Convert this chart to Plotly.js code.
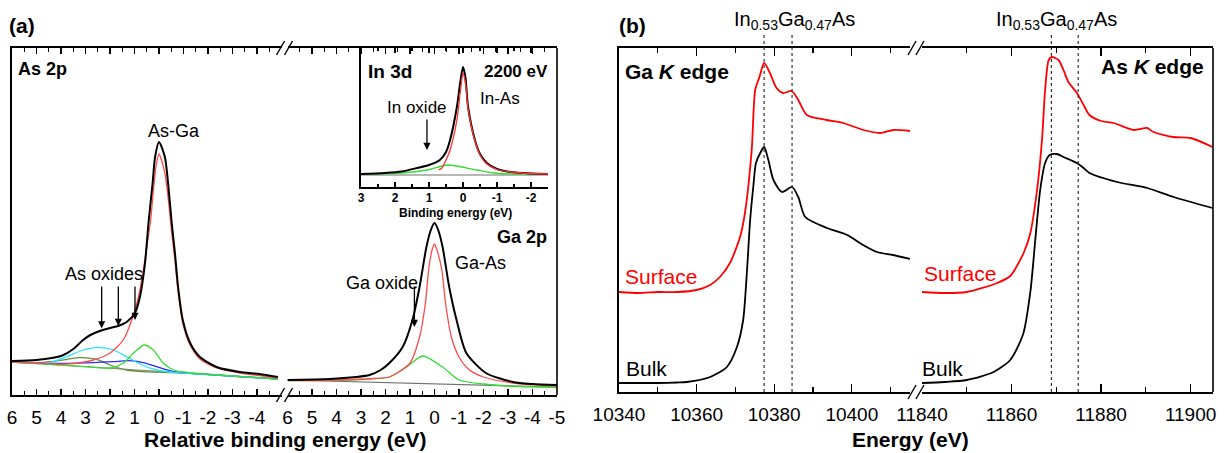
<!DOCTYPE html>
<html><head><meta charset="utf-8">
<script src="https://cdn.plot.ly/plotly-3.0.1.min.js"></script>
<style>html,body{margin:0;padding:0;background:#fff;}#chart{width:1225px;height:453px;}</style>
</head><body><div id="chart"></div>
<script>
// ---------- DATA ----------
// Panel (a) As 2p (relative binding energy, eV ; intensity a.u.)
const as2pE_total = [6, 5, 4, 3.5, 3.1, 2.8, 2.42, 2.0, 1.67, 1.32, 0.98, 0.78, 0.57, 0.43, 0.26, 0.16, 0, -0.24, -0.37, -0.52, -0.65, -0.78, -0.97, -1.27, -1.67, -2.35, -3.3, -4.1, -4.85];
const as2pI_total = [34, 35, 39, 46, 55, 60, 64, 67, 69, 73, 82, 98, 132, 172, 212, 238, 253, 238, 212, 172, 142, 108, 75, 52, 38, 28, 23, 21, 18];
const as2pE_AsGa = [6, 5, 3.77, 2.68, 2.0, 1.46, 1.11, 0.84, 0.64, 0.44, 0.34, 0.2, 0.1, 0, -0.1, -0.24, -0.37, -0.52, -0.65, -0.78, -0.97, -1.27, -1.67, -2.35, -3.3, -4.1, -4.85];
const as2pI_AsGa = [33, 32, 31, 35, 42, 55, 75, 98, 125, 158, 175, 212, 232, 241, 235, 222, 198, 162, 135, 103, 72, 50, 36, 27, 22, 19.5, 17];
const as2pE_cyan = [6, 5, 4.45, 3.77, 3.09, 2.48, 1.86, 1.32, 0.78, 0.1, -0.72, -2, -4.85];
const as2pI_cyan = [33, 31.6, 32.3, 38.3, 45, 47.7, 45, 38.3, 31, 25, 22.3, 20.5, 16];
const as2pE_green = [6, 4, 3, 2.0, 1.46, 1.05, 0.61, 0.23, -0.18, -0.6, -1.27, -2.5, -4.85];
const as2pI_green = [33, 30, 28.3, 27, 31.7, 41.7, 50, 45, 31.7, 25, 22.3, 19.7, 16];
const as2pE_blue = [6, 5, 3.77, 2.68, 1.86, 1.25, 0.64, 0.1, -0.6, -1.27, -2.5, -4.85];
const as2pI_blue = [33, 32.3, 31.7, 32.3, 33.3, 34.3, 32.3, 28.3, 23.3, 21.7, 19.7, 16];
const as2pE_olive = [6, 5, 4.45, 3.77, 3.23, 2.55, 2.0, 1.32, 0.64, -1, -4.85];
const as2pI_olive = [33, 32, 33.3, 35.7, 37.3, 35.7, 30, 25, 23.3, 22, 16];
const as2pE_bg = [6, -4.85];
const as2pI_bg = [33, 16];
const asOxArrowE = [2.34, 1.66, 0.98];
const asOxArrowTip = [66.7, 69, 75];
const asOxArrowTail = [110, 110, 110];

// Panel (a) Ga 2p
const ga2pE_total = [6, 4.3, 3.2, 2.65, 2.2, 1.84, 1.3, 0.9, 0.61, 0.33, 0.15, 0, -0.15, -0.33, -0.6, -0.9, -1.3, -2.1, -3.2, -4, -5];
const ga2pI_total = [15, 16, 18, 20, 25, 32, 48, 75, 108, 148, 165, 172, 165, 148, 108, 75, 42, 22, 13, 11, 10];
const ga2pE_GaAs = [6, 4, 2.5, 1.84, 1.0, 0.61, 0.37, 0.24, 0.1, 0, -0.1, -0.3, -0.45, -0.69, -1.0, -1.43, -2.0, -3.2, -5];
const ga2pI_GaAs = [14.5, 15, 16.5, 18, 32, 58, 92, 125, 145, 151, 145, 125, 92, 58, 38, 25, 18, 12, 9];
const ga2pE_ox = [6, 3, 1.84, 1.14, 0.49, -0.33, -1.0, -2, -3, -5];
const ga2pI_ox = [14.5, 15.5, 18, 28, 39, 28, 15, 11, 9, 7.5];
const ga2pE_bg = [6, -5];
const ga2pI_bg = [15, 8];
const gaOxArrowE = [0.82];
const gaOxArrowTip = [68];
const gaOxArrowTail = [110];

// Inset In 3d (binding energy, eV)
const in3dE_total = [3, 2.3, 1.8, 1.35, 1.0, 0.68, 0.5, 0.38, 0.18, 0.08, 0, -0.07, -0.15, -0.35, -0.5, -0.7, -1.0, -1.4, -2, -2.5];
const in3dI_total = [13, 14, 15.5, 19, 22, 27, 35, 47, 80, 105, 120, 110, 80, 47, 33, 24, 18, 15, 13.5, 13];
const in3dE_InAs = [0.72, 0.62, 0.5, 0.38, 0.18, 0.08, 0, -0.08, -0.15, -0.35, -0.5, -0.7, -1.0, -1.4, -2, -2.5];
const in3dI_InAs = [17, 19, 27, 37, 67, 95, 114, 102, 78, 46, 32, 23, 17.5, 15, 13.5, 13];
const in3dE_ox = [3, 1.8, 1.05, 0.44, -0.4, -0.9, -1.5, -2.5];
const in3dI_ox = [13, 14, 17, 22, 17, 14, 13, 13];
const in3dE_bg = [3, -2.5];
const in3dI_bg = [12, 12];
const inOxArrowE = [1.06];
const inOxArrowTip = [37];
const inOxArrowTail = [69];

// Panel (b) Ga K edge (energy eV)
const gaKE_surf = [10340, 10345, 10350, 10355, 10360, 10363.5, 10366, 10368.6, 10371.2, 10372.5, 10374.2, 10375.1, 10376.2, 10377.4, 10378.9, 10380.6, 10382.3, 10384.5, 10386.2, 10388.4, 10393.5, 10397.8, 10403, 10407.3, 10410.7, 10415];
const gaKI_surf = [100, 99, 100, 100, 102, 107, 115, 129, 155, 180, 242, 302, 315, 329, 319, 304, 299, 301, 292, 277, 272, 269, 262, 259, 262, 261];
const gaKE_bulk = [10340, 10345, 10350, 10355, 10357.5, 10363.5, 10367.8, 10370.4, 10372, 10373, 10373.8, 10374.6, 10375.3, 10376.4, 10377.4, 10378.5, 10379.8, 10382, 10384.6, 10386.2, 10388, 10393.6, 10398.8, 10402.9, 10406.5, 10410.6, 10415];
const gaKI_bulk = [9, 9, 9, 9.5, 10, 15, 25, 45, 72, 122, 172, 205, 229, 239, 245, 232, 212, 200, 205, 195, 175, 164, 157, 147, 140, 137, 133];
// Panel (b) As K edge
const asKE_surf = [11840, 11845, 11850, 11856.8, 11859.7, 11862.7, 11864.2, 11865.7, 11866.8, 11867.5, 11868.3, 11869.0, 11870.5, 11871.6, 11872.7, 11874.6, 11876.1, 11877.4, 11880, 11882.8, 11887.3, 11890.3, 11891.7, 11896.2, 11900, 11904.9];
const asKI_surf = [100, 99, 100, 109, 116, 139, 159, 202, 252, 302, 332, 335, 332, 322, 310, 299, 287, 277, 271, 269, 262, 264, 260, 255, 254, 245];
const asKE_bulk = [11840, 11845, 11850, 11856, 11859.7, 11862.6, 11864.2, 11865.3, 11866.4, 11867.5, 11868.5, 11870.1, 11871.6, 11874.6, 11876.1, 11877.4, 11883.6, 11890.3, 11896.2, 11904.9];
const asKI_bulk = [9, 10, 12, 20, 32, 58, 100, 152, 202, 229, 237, 238, 235, 229, 224, 219, 210, 204, 195, 184];
// Reference energies (In0.53Ga0.47As features)
const gaRefE = [10377.4, 10384.6];
const asRefE = [11868.9, 11874.9];

// Tick labels
const aTickVals = [6, 5, 4, 3, 2, 1, 0, -1, -2, -3, -4];
const aTickText = ['6', '5', '4', '3', '2', '1', '0', '-1', '-2', '-3', '-4'];
const a2TickVals = [6, 5, 4, 3, 2, 1, 0, -1, -2, -3, -4, -5];
const a2TickText = ['6', '5', '4', '3', '2', '1', '0', '-1', '-2', '-3', '-4', '-5'];
const inTickVals = [3, 2, 1, 0, -1, -2];
const inTickText = ['3', '2', '1', '0', '-1', '-2'];
const gaTickVals = [10340, 10360, 10380, 10400];
const asTickVals = [11840, 11860, 11880, 11900];

// ---------- LAYOUT HELPERS ----------
const W = 1225, H = 453;
const fx = p => p / W;
const fy = p => 1 - p / H;
const FONT = 'Liberation Sans, Arial, Helvetica, sans-serif';

function ln(x, y, xa, ya, color, width) {
  return {x: x, y: y, xaxis: xa, yaxis: ya, type: 'scatter', mode: 'lines',
    line: {color: color, width: width, shape: 'spline', smoothing: 0.7},
    hoverinfo: 'skip', showlegend: false, cliponaxis: true};
}

const traces = [
  ln(as2pE_bg, as2pI_bg, 'x', 'y', '#8a8a6a', 1.2),
  ln(as2pE_olive, as2pI_olive, 'x', 'y', '#5f8f3f', 1.3),
  ln(as2pE_blue, as2pI_blue, 'x', 'y', '#2a2aff', 1.3),
  ln(as2pE_cyan, as2pI_cyan, 'x', 'y', '#22e6ff', 1.3),
  ln(as2pE_green, as2pI_green, 'x', 'y', '#33dd33', 1.3),
  ln(as2pE_AsGa, as2pI_AsGa, 'x', 'y', '#ff4a4a', 1.3),
  ln(as2pE_total, as2pI_total, 'x', 'y', '#000000', 2),

  ln(ga2pE_bg, ga2pI_bg, 'x2', 'y', '#707070', 1.2),
  ln(ga2pE_ox, ga2pI_ox, 'x2', 'y', '#33dd33', 1.3),
  ln(ga2pE_GaAs, ga2pI_GaAs, 'x2', 'y', '#ff4a4a', 1.3),
  ln(ga2pE_total, ga2pI_total, 'x2', 'y', '#000000', 2),

  ln(in3dE_bg, in3dI_bg, 'x3', 'y3', '#707070', 1.2),
  ln(in3dE_ox, in3dI_ox, 'x3', 'y3', '#33dd33', 1.3),
  ln(in3dE_total, in3dI_total, 'x3', 'y3', '#000000', 2),
  ln(in3dE_InAs, in3dI_InAs, 'x3', 'y3', '#ff3030', 1.3),

  ln(gaKE_surf, gaKI_surf, 'x4', 'y4', '#ff0000', 1.8),
  ln(gaKE_bulk, gaKI_bulk, 'x4', 'y4', '#000000', 1.8),
  ln(asKE_surf, asKI_surf, 'x5', 'y4', '#ff0000', 1.8),
  ln(asKE_bulk, asKI_bulk, 'x5', 'y4', '#000000', 1.8)
];

function xAx(domain, range, anchor, tv, tt, minorDt, fontSize, bold, tlen, mlen, standoff) {
  return {
    domain: domain, range: range, anchor: anchor, autorange: false,
    showline: true, linecolor: '#000', linewidth: 1.6, mirror: 'ticks',
    ticks: 'inside', ticklen: tlen, tickwidth: 1.4, tickcolor: '#000',
    tickmode: 'array', tickvals: tv, ticktext: tt,
    minor: {dtick: minorDt, tick0: 0, ticks: 'inside', ticklen: mlen, tickwidth: 1.2, tickcolor: '#000', showgrid: false},
    tickfont: {family: FONT, size: fontSize, color: '#000', weight: bold ? 'bold' : 'normal'},
    showgrid: false, zeroline: false, fixedrange: true, ticklabelstandoff: standoff
  };
}
function yAx(domain, range, anchor) {
  return {domain: domain, range: range, anchor: anchor, autorange: false,
    showline: true, linecolor: '#000', linewidth: 1.6, ticks: '', showticklabels: false,
    showgrid: false, zeroline: false, fixedrange: true};
}

const layout = {
  width: W, height: H, margin: {l: 0, r: 0, t: 0, b: 0},
  paper_bgcolor: '#fff', plot_bgcolor: 'rgba(0,0,0,0)',
  showlegend: false,
  font: {family: FONT, color: '#000'},
  xaxis: xAx([fx(12), fx(281.5)], [6, -5], 'y', aTickVals, aTickText, 0.5, 19, false, 6, 4, 5),
  xaxis2: xAx([fx(287.5), fx(557)], [6, -5], 'y', a2TickVals, a2TickText, 0.5, 19, false, 6, 4, 5),
  xaxis3: xAx([fx(361), fx(548)], [3, -2.5], 'y3', inTickVals, inTickText, 0.5, 12, true, 5, 3, -1),
  xaxis4: xAx([fx(619), fx(910)], [10340, 10415], 'y4', gaTickVals, gaTickVals.map(String), 10, 19, false, 8, 5, 5),
  xaxis5: xAx([fx(922), fx(1213)], [11840, 11905], 'y4', asTickVals, asTickVals.map(String), 10, 19, false, 8, 5, 5),
  yaxis: yAx([fy(395), fy(48)], [0, 347], 'x'),
  yaxis3: yAx([fy(187), fy(48)], [0, 139], 'x3'),
  yaxis4: yAx([fy(392), fy(48)], [0, 344], 'x4'),
  shapes: [],
  annotations: []
};

// frame right borders
layout.shapes.push({type: 'line', xref: 'x2 domain', yref: 'y domain', x0: 1, x1: 1, y0: 0, y1: 1, line: {color: '#000', width: 1.6}});
layout.shapes.push({type: 'line', xref: 'x5 domain', yref: 'y4 domain', x0: 1, x1: 1, y0: 0, y1: 1, line: {color: '#000', width: 1.6}});

// axis break marks (pairs of slashes)
function slashes(cx, cy) {
  [-4, 4].forEach(d => {
    layout.shapes.push({type: 'line', xref: 'paper', yref: 'paper',
      x0: fx(cx + d - 4), y0: fy(cy + 7), x1: fx(cx + d + 4), y1: fy(cy - 7),
      line: {color: '#000', width: 1.4}});
  });
}
slashes(284.5, 48); slashes(284.5, 395); slashes(916, 48); slashes(916, 392);

// dotted reference lines
gaRefE.forEach(e => layout.shapes.push({type: 'line', xref: 'x4', yref: 'y4 domain', x0: e, x1: e, y0: 0, y1: 1.045,
  line: {color: '#333', width: 1.2, dash: 'dot'}}));
asRefE.forEach(e => layout.shapes.push({type: 'line', xref: 'x5', yref: 'y4 domain', x0: e, x1: e, y0: 0, y1: 1.045,
  line: {color: '#333', width: 1.2, dash: 'dot'}}));

// text labels
function txt(t, cx, cy, size, opts) {
  opts = opts || {};
  layout.annotations.push({text: t, xref: 'paper', yref: 'paper', x: fx(cx), y: fy(cy),
    xanchor: 'center', yanchor: 'middle', showarrow: false,
    font: {family: FONT, size: size, color: opts.color || '#000', weight: opts.bold ? 'bold' : 'normal'}});
}
txt('(a)', 22, 26, 21, {bold: true});
txt('(b)', 632, 26, 21, {bold: true});
txt('As 2p', 42, 69, 18, {bold: true});
txt('As-Ga', 174, 131, 18);
txt('As oxides', 104, 274, 18);
txt('Ga oxide', 382, 283, 18);
txt('Ga-As', 480, 263, 18);
txt('Ga 2p', 522, 237, 18, {bold: true});
txt('In 3d', 390, 71, 19, {bold: true});
txt('2200 eV', 516, 71, 17, {bold: true});
txt('In oxide', 417, 107, 17);
txt('In-As', 500, 98, 17);
txt('Relative binding energy (eV)', 285, 439, 21, {bold: true});
txt('Binding energy (eV)', 455, 213, 12, {bold: true});
txt('Energy (eV)', 910, 439, 21, {bold: true});
txt('In<sub>0.53</sub>Ga<sub>0.47</sub>As', 794, 20, 20);
txt('In<sub>0.53</sub>Ga<sub>0.47</sub>As', 1056, 20, 20);
txt('Ga <i>K</i> edge', 677, 71, 21, {bold: true});
txt('As <i>K</i> edge', 1152, 67, 21, {bold: true});
txt('Surface', 661, 276, 21, {color: '#ff0000'});
txt('Bulk', 646, 368, 21);
txt('Surface', 960, 273, 21, {color: '#ff0000'});
txt('Bulk', 942, 368, 21);

// arrows
function arrows(E, tip, tail, xa, ya) {
  E.forEach((e, i) => layout.annotations.push({x: e, y: tip[i], xref: xa, yref: ya,
    ax: e, ay: tail[i], axref: xa, ayref: ya, text: '', showarrow: true,
    arrowhead: 2, arrowsize: 1.1, arrowwidth: 1.3, arrowcolor: '#000', standoff: 0}));
}
arrows(asOxArrowE, asOxArrowTip, asOxArrowTail, 'x', 'y');
arrows(gaOxArrowE, gaOxArrowTip, gaOxArrowTail, 'x2', 'y');
arrows(inOxArrowE, inOxArrowTip, inOxArrowTail, 'x3', 'y3');

Plotly.newPlot('chart', traces, layout, {staticPlot: true, displayModeBar: false});
</script>
</body></html>
